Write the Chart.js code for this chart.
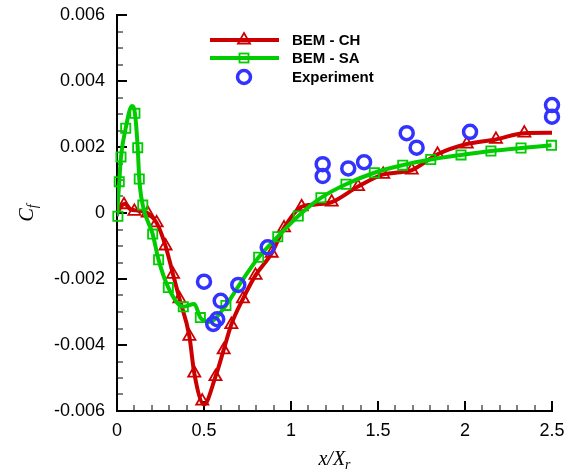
<!DOCTYPE html>
<html>
<head>
<meta charset="utf-8">
<script src="https://cdn.jsdelivr.net/npm/chart.js@4.4.0/dist/chart.umd.min.js"></script>
<style>
html, body { margin: 0; padding: 0; background: #fff; }
</style>
</head>
<body>
<canvas id="cfchart" width="579" height="472"></canvas>
<script>
// BEM - CH curve and its triangle markers
var chCurveX = [0, 0.023, 0.045, 0.075, 0.11, 0.15, 0.18, 0.228, 0.279, 0.322, 0.359, 0.416, 0.444, 0.5, 0.566, 0.613, 0.657, 0.724, 0.796, 0.889, 0.96, 1.061, 1.14, 1.234, 1.385, 1.53, 1.6, 1.694, 1.842, 2.01, 2.178, 2.341, 2.5];
var chCurveY = [0, 0.0002, 0.00028, 0.00012, 0.00008, 0.00005, -0.00002, -0.0003, -0.001, -0.00186, -0.0026, -0.00374, -0.00485, -0.0058, -0.00496, -0.00415, -0.00338, -0.0026, -0.00189, -0.00122, -0.00045, 0.00019, 0.00026, 0.00033, 0.0008, 0.00117, 0.00122, 0.0013, 0.00178, 0.00209, 0.00223, 0.00242, 0.00243];
var chMarkX = [0.04, 0.1, 0.176, 0.228, 0.279, 0.322, 0.359, 0.416, 0.444, 0.49, 0.566, 0.613, 0.657, 0.724, 0.796, 0.889, 0.96, 1.061, 1.234, 1.385, 1.53, 1.694, 1.842, 2.01, 2.178, 2.341];
var chMarkY = [0.00025, 0.00005, 0.0, -0.0003, -0.001, -0.00186, -0.0026, -0.00374, -0.00485, -0.0057, -0.00496, -0.00415, -0.00338, -0.0026, -0.00189, -0.00122, -0.00045, 0.00019, 0.00033, 0.0008, 0.00117, 0.0013, 0.00178, 0.00209, 0.00223, 0.00242];

// BEM - SA curve and its square markers
var saCurveX = [0, 0.013, 0.023, 0.05, 0.086, 0.103, 0.119, 0.128, 0.148, 0.205, 0.239, 0.295, 0.381, 0.444, 0.479, 0.53, 0.626, 0.7, 0.814, 0.924, 1.042, 1.172, 1.316, 1.479, 1.642, 1.803, 1.977, 2.149, 2.322, 2.497];
var saCurveY = [-0.0001, 0.00095, 0.0017, 0.00257, 0.00324, 0.00302, 0.00198, 0.00103, 0.00024, -0.00064, -0.00142, -0.00226, -0.00284, -0.00276, -0.00317, -0.0033, -0.0028, -0.0022, -0.00134, -0.00072, -0.00009, 0.00046, 0.00087, 0.00122, 0.00145, 0.00162, 0.00176, 0.00188, 0.00197, 0.00205];
var saMarkX = [0.005, 0.013, 0.023, 0.05, 0.103, 0.119, 0.128, 0.148, 0.205, 0.239, 0.295, 0.381, 0.479, 0.626, 0.814, 0.924, 1.042, 1.172, 1.316, 1.479, 1.642, 1.803, 1.977, 2.149, 2.322, 2.497];
var saMarkY = [-0.0001, 0.00095, 0.0017, 0.00257, 0.00302, 0.00198, 0.00103, 0.00024, -0.00064, -0.00142, -0.00226, -0.00284, -0.00317, -0.0028, -0.00134, -0.00072, -0.00009, 0.00046, 0.00087, 0.00122, 0.00145, 0.00162, 0.00176, 0.00188, 0.00197, 0.00205];

// Experiment
var expX = [0.5, 0.553, 0.576, 0.596, 0.697, 0.866, 1.182, 1.182, 1.329, 1.42, 1.665, 1.722, 2.029, 2.5, 2.5];
var expY = [-0.00208, -0.00336, -0.00322, -0.00266, -0.00218, -0.00104, 0.00148, 0.00112, 0.00135, 0.00154, 0.00242, 0.00198, 0.00246, 0.00327, 0.00292];

var xTicks = [0, 0.5, 1, 1.5, 2, 2.5];
var legendNames = ['BEM - CH', 'BEM - SA', 'Experiment'];

var red = '#cc0000', green = '#00cc00', blue = '#3333ff';

function pts(xs, ys) {
    return xs.map(function (x, i) { return {x: x, y: ys[i]}; });
}

// inward ticks, axis titles and legend
var overlay = {
    id: 'overlay',
    beforeDatasetsDraw: function (chart) {
        var ctx = chart.ctx, a = chart.chartArea;
        var sx = chart.scales.x, sy = chart.scales.y;
        ctx.save();
        ctx.strokeStyle = '#000';
        for (var i = 0; i <= 25; i++) {
            var px = Math.round(sx.getPixelForValue(i * 0.1));
            var major = i % 5 === 0;
            ctx.lineWidth = major ? 2 : 1;
            ctx.beginPath();
            ctx.moveTo(px, a.bottom);
            ctx.lineTo(px, a.bottom - (major ? 10 : 6));
            ctx.stroke();
        }
        for (var j = 0; j <= 24; j++) {
            var py = Math.round(sy.getPixelForValue(-0.006 + j * 0.0005));
            var maj = j % 4 === 0;
            ctx.lineWidth = maj ? 2 : 1;
            ctx.beginPath();
            ctx.moveTo(a.left, py);
            ctx.lineTo(a.left + (maj ? 10 : 6), py);
            ctx.stroke();
        }
        ctx.restore();
    },
    afterDraw: function (chart) {
        var ctx = chart.ctx, a = chart.chartArea;
        ctx.save();
        ctx.fillStyle = '#000';
        ctx.textBaseline = 'alphabetic';

        // x title: x/X_r
        var big = 'italic 20px "Liberation Serif"', small = 'italic 14px "Liberation Serif"';
        ctx.font = big;
        var w1 = ctx.measureText('x/X').width;
        ctx.font = small;
        var w2 = ctx.measureText('r').width;
        var cx = (a.left + a.right) / 2;
        var x0 = cx - (w1 + w2) / 2;
        ctx.font = big;
        ctx.textAlign = 'left';
        ctx.fillText('x/X', x0, 465);
        ctx.font = small;
        ctx.fillText('r', x0 + w1, 469);

        // y title: C_f
        ctx.translate(33, (a.top + a.bottom) / 2);
        ctx.rotate(-Math.PI / 2);
        ctx.font = big;
        var c1 = ctx.measureText('C').width;
        ctx.font = small;
        var c2 = ctx.measureText('f').width;
        ctx.font = big;
        ctx.fillText('C', -(c1 + c2) / 2, 0);
        ctx.font = small;
        ctx.fillText('f', -(c1 + c2) / 2 + c1, 4);
        ctx.setTransform(1, 0, 0, 1, 0, 0);

        // legend
        var rows = [40, 58, 77];
        ctx.lineWidth = 4;
        ctx.strokeStyle = red;
        ctx.beginPath(); ctx.moveTo(210, rows[0]); ctx.lineTo(279, rows[0]); ctx.stroke();
        ctx.strokeStyle = green;
        ctx.beginPath(); ctx.moveTo(210, rows[1]); ctx.lineTo(279, rows[1]); ctx.stroke();
        ctx.lineWidth = 1.8;
        ctx.strokeStyle = red;
        ctx.beginPath();
        ctx.moveTo(244, rows[0] - 7);
        ctx.lineTo(244 + 6.06, rows[0] + 3.5);
        ctx.lineTo(244 - 6.06, rows[0] + 3.5);
        ctx.closePath();
        ctx.stroke();
        ctx.strokeStyle = green;
        ctx.strokeRect(239.5, rows[1] - 4.5, 9, 9);
        ctx.strokeStyle = blue;
        ctx.lineWidth = 3.5;
        ctx.beginPath(); ctx.arc(244, rows[2], 6.5, 0, Math.PI * 2); ctx.stroke();

        ctx.fillStyle = '#000';
        ctx.font = 'bold 15px "Liberation Sans"';
        ctx.textBaseline = 'middle';
        legendNames.forEach(function (n, k) { ctx.fillText(n, 292, rows[k] + 1); });
        ctx.restore();
    }
};

var chart1 = document.getElementById('cfchart');
var myChart1 = new Chart(chart1, {
type: 'scatter',
data: {
    datasets: [{
        label: 'Experiment',
        data: pts(expX, expY),
        showLine: false,
        clip: false,
        pointStyle: 'circle',
        pointRadius: 6.5,
        pointBorderWidth: 3.5,
        pointBorderColor: blue,
        pointBackgroundColor: 'rgba(0,0,0,0)',
        order: 0
    }, {
        label: 'BEM - SA markers',
        data: pts(saMarkX, saMarkY),
        showLine: false,
        clip: false,
        pointStyle: 'rect',
        pointRadius: 6.5,
        pointBorderWidth: 1.8,
        pointBorderColor: green,
        pointBackgroundColor: 'rgba(0,0,0,0)',
        order: 1
    }, {
        label: 'BEM - SA',
        data: pts(saCurveX, saCurveY),
        showLine: true,
        borderColor: green,
        borderWidth: 4,
        pointRadius: 0,
        cubicInterpolationMode: 'monotone',
        order: 2
    }, {
        label: 'BEM - CH markers',
        data: pts(chMarkX, chMarkY),
        showLine: false,
        clip: false,
        pointStyle: 'triangle',
        pointRadius: 7,
        pointBorderWidth: 1.8,
        pointBorderColor: red,
        pointBackgroundColor: 'rgba(0,0,0,0)',
        order: 3
    }, {
        label: 'BEM - CH',
        data: pts(chCurveX, chCurveY),
        showLine: true,
        borderColor: red,
        borderWidth: 4,
        pointRadius: 0,
        cubicInterpolationMode: 'monotone',
        order: 4
    }]
},
options: {
    responsive: false,
    animation: false,
    layout: {
        padding: {top: 15, right: 27, left: 0, bottom: 0}
    },
    plugins: {
        legend: {display: false},
        tooltip: {enabled: false}
    },
    scales: {
        x: {
            type: 'linear',
            min: 0,
            max: 2.5,
            afterFit: function (s) { s.height = 61; s.paddingLeft = 0; s.paddingRight = 0; },
            afterBuildTicks: function (s) { s.ticks = xTicks.map(function (v) { return {value: v}; }); },
            grid: {display: false, drawTicks: false},
            border: {display: true, color: '#000', width: 2},
            ticks: {
                padding: 9,
                color: '#000',
                maxRotation: 0,
                autoSkip: false,
                font: {family: 'Liberation Sans', size: 18},
                callback: function (v) { return String(v); }
            }
        },
        y: {
            min: -0.006,
            max: 0.006,
            afterFit: function (s) { s.width = 117; s.paddingTop = 0; s.paddingBottom = 0; },
            grid: {display: false, drawTicks: false},
            border: {display: true, color: '#000', width: 2},
            ticks: {
                stepSize: 0.002,
                padding: 12,
                color: '#000',
                autoSkip: false,
                font: {family: 'Liberation Sans', size: 18},
                callback: function (v) { return Math.abs(v) < 1e-9 ? '0' : v.toFixed(3); }
            }
        }
    }
},
plugins: [overlay]
});
</script>
</body>
</html>
